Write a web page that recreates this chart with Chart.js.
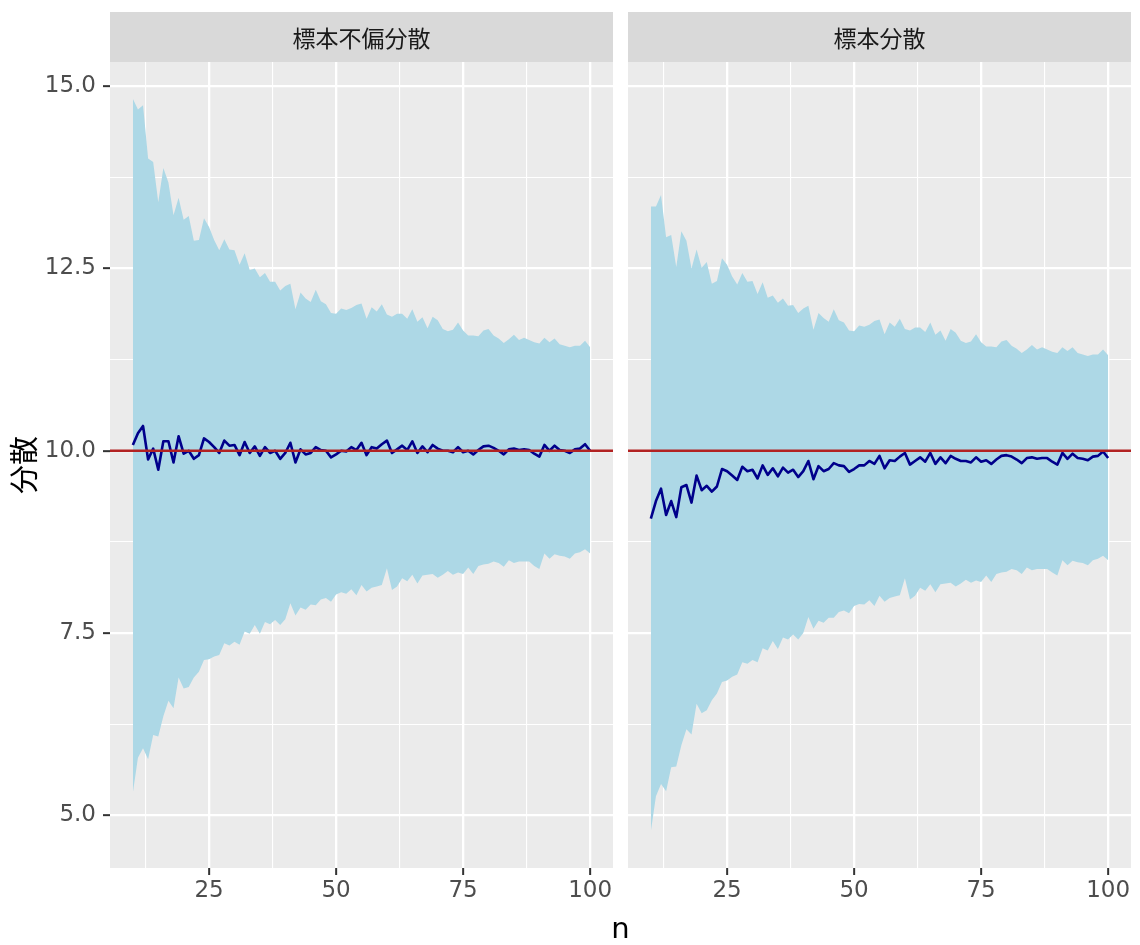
<!DOCTYPE html>
<html>
<head>
<meta charset="utf-8">
<script src="https://cdn.jsdelivr.net/npm/chart.js@4/dist/chart.umd.min.js"></script>
<style>
  body { margin: 0; background: #fff; }
  #wrap { position: relative; width: 1140px; height: 945px; }
  canvas { position: absolute; top: 0; }
  #left { left: 0; }
  #right { left: 620px; }
  #xtitle { position: absolute; left: 560px; width: 121px; top: 910px; text-align: center;
            font: 29px "DejaVu Sans", sans-serif; line-height: 36px; color: #000; }
</style>
</head>
<body>
<div id="wrap">
  <canvas id="left" width="620" height="945"></canvas>
  <canvas id="right" width="520" height="945"></canvas>
  <div id="xtitle">n</div>
</div>
<script>
const ns = [10,11,12,13,14,15,16,17,18,19,20,21,22,23,24,25,26,27,28,29,30,31,32,33,34,35,36,37,38,39,
  40,41,42,43,44,45,46,47,48,49,50,51,52,53,54,55,56,57,58,59,60,61,62,63,64,65,66,67,68,69,
  70,71,72,73,74,75,76,77,78,79,80,81,82,83,84,85,86,87,88,89,90,91,92,93,94,95,96,97,98,99,100];

const panelTitles = ['標本不偏分散', '標本分散'];
const yTitle = '分散';

// 標本不偏分散
const unbiasedUpper = [14.83,14.68,14.74,14.01,13.96,13.41,13.88,13.68,13.23,13.47,
  13.17,13.22,12.88,12.89,13.19,13.07,12.89,12.75,12.90,12.76,
  12.75,12.55,12.71,12.48,12.50,12.38,12.44,12.32,12.32,12.20,
  12.26,12.29,11.94,12.17,12.09,12.04,12.21,12.05,12.01,11.89,
  11.88,11.95,11.93,11.96,12.00,12.02,11.81,11.97,11.91,12.01,
  11.87,11.84,11.88,11.88,11.81,11.94,11.77,11.83,11.68,11.84,
  11.79,11.67,11.64,11.66,11.76,11.65,11.58,11.58,11.57,11.65,
  11.67,11.58,11.54,11.48,11.53,11.59,11.52,11.55,11.52,11.49,
  11.47,11.55,11.49,11.54,11.46,11.44,11.42,11.44,11.44,11.51,
  11.42];
const unbiasedLower = [5.31,5.79,5.92,5.77,6.10,6.08,6.36,6.57,6.47,6.89,
  6.74,6.76,6.89,6.97,7.13,7.14,7.18,7.20,7.36,7.33,
  7.38,7.34,7.52,7.49,7.61,7.49,7.65,7.62,7.68,7.61,
  7.69,7.91,7.74,7.85,7.82,7.89,7.88,7.96,7.98,7.93,
  8.03,8.06,8.04,8.10,8.02,8.16,8.07,8.12,8.14,8.16,
  8.39,8.09,8.14,8.25,8.21,8.30,8.18,8.29,8.30,8.31,
  8.26,8.30,8.35,8.30,8.33,8.31,8.40,8.31,8.42,8.44,
  8.45,8.48,8.46,8.41,8.50,8.46,8.48,8.48,8.48,8.42,
  8.38,8.59,8.52,8.58,8.56,8.55,8.52,8.59,8.61,8.65,
  8.59];
const unbiasedMean = [10.08,10.24,10.34,9.88,10.03,9.74,10.13,10.13,9.84,10.20,
  9.96,10.00,9.89,9.94,10.17,10.12,10.05,9.97,10.14,10.07,
  10.08,9.94,10.12,9.97,10.06,9.93,10.05,9.97,10.00,9.89,
  9.97,10.11,9.84,10.02,9.95,9.97,10.05,10.01,10.00,9.91,
  9.95,10.00,9.99,10.05,10.01,10.11,9.94,10.05,10.03,10.09,
  10.14,9.97,10.02,10.07,10.01,10.13,9.97,10.06,9.98,10.08,
  10.03,10.00,10.00,9.98,10.05,9.98,10.00,9.95,10.01,10.06,
  10.07,10.04,10.00,9.95,10.02,10.03,10.01,10.02,10.01,9.96,
  9.92,10.08,10.00,10.07,10.01,10.00,9.97,10.02,10.03,10.09,
  10.00];

// 標本分散
const sampleUpper = [13.35,13.35,13.51,12.93,12.96,12.52,13.01,12.88,12.50,12.76,
  12.51,12.59,12.29,12.33,12.64,12.55,12.39,12.28,12.44,12.32,
  12.33,12.15,12.31,12.10,12.13,12.03,12.09,11.99,12.00,11.89,
  11.95,11.99,11.66,11.89,11.82,11.77,11.94,11.79,11.76,11.65,
  11.64,11.72,11.70,11.73,11.78,11.80,11.60,11.76,11.70,11.81,
  11.67,11.65,11.69,11.69,11.63,11.76,11.59,11.65,11.51,11.67,
  11.62,11.51,11.48,11.50,11.60,11.49,11.43,11.43,11.42,11.50,
  11.52,11.44,11.40,11.34,11.39,11.45,11.39,11.42,11.39,11.36,
  11.34,11.42,11.37,11.42,11.34,11.32,11.30,11.32,11.32,11.39,
  11.31];
const sampleLower = [4.78,5.26,5.43,5.33,5.66,5.67,5.96,6.18,6.11,6.53,
  6.40,6.44,6.58,6.67,6.83,6.85,6.90,6.93,7.10,7.08,
  7.13,7.10,7.29,7.26,7.39,7.28,7.44,7.41,7.48,7.41,
  7.50,7.72,7.56,7.67,7.64,7.71,7.71,7.79,7.81,7.77,
  7.87,7.90,7.89,7.95,7.87,8.01,7.93,7.98,8.00,8.02,
  8.25,7.96,8.01,8.12,8.08,8.17,8.06,8.17,8.18,8.19,
  8.14,8.18,8.23,8.19,8.22,8.20,8.29,8.20,8.31,8.33,
  8.34,8.38,8.36,8.31,8.40,8.36,8.38,8.38,8.38,8.33,
  8.29,8.50,8.43,8.49,8.47,8.46,8.43,8.50,8.52,8.56,
  8.50];
const sampleMean = [9.07,9.31,9.48,9.12,9.31,9.09,9.50,9.53,9.29,9.66,
  9.46,9.52,9.44,9.51,9.75,9.72,9.66,9.60,9.78,9.72,
  9.74,9.62,9.80,9.67,9.76,9.65,9.77,9.70,9.74,9.64,
  9.72,9.86,9.61,9.79,9.72,9.75,9.83,9.80,9.79,9.71,
  9.75,9.80,9.80,9.86,9.82,9.93,9.76,9.87,9.86,9.92,
  9.97,9.81,9.86,9.91,9.85,9.97,9.82,9.91,9.83,9.93,
  9.89,9.86,9.86,9.84,9.91,9.85,9.87,9.82,9.88,9.93,
  9.94,9.92,9.88,9.83,9.90,9.91,9.89,9.90,9.90,9.85,
  9.81,9.97,9.89,9.96,9.90,9.89,9.87,9.92,9.93,9.99,
  9.90];

const trueVariance = 10;
const xMajor = [25, 50, 75, 100];
const xMinor = [12.5, 37.5, 62.5, 87.5];
const yMajor = [5, 7.5, 10, 12.5, 15];
const yMinor = [6.25, 8.75, 11.25, 13.75];
const xRange = [5.5, 104.5];
const yRange = [4.2775, 15.3325];

Chart.defaults.font.family = '"DejaVu Sans", "Noto Sans CJK JP", sans-serif';
Chart.defaults.font.size = 23;
Chart.defaults.color = '#4D4D4D';

const pts = arr => ns.map((n, i) => ({x: n, y: arr[i]}));

// grey panel + facet strip
const panelPlugin = {
  id: 'panel',
  beforeDraw(chart, args, opts) {
    const {ctx, chartArea: a} = chart;
    ctx.save();
    ctx.fillStyle = '#EBEBEB';
    ctx.fillRect(a.left, a.top, a.width, a.height);
    ctx.fillStyle = '#D9D9D9';
    ctx.fillRect(a.left, 12, a.width, a.top - 12);
    ctx.fillStyle = '#1A1A1A';
    ctx.font = '23px "Noto Sans CJK JP", sans-serif';
    ctx.textAlign = 'center';
    ctx.textBaseline = 'middle';
    ctx.fillText(opts.text, (a.left + a.right) / 2, (12 + a.top) / 2 + 1);
    ctx.restore();
  }
};

function gridOpts(major, ticks) {
  return {
    color: '#FFFFFF',
    lineWidth: c => major.includes(c.tick && c.tick.value) ? 2.3 : 1.1,
    drawTicks: ticks,
    tickLength: 7,
    tickWidth: 2,
    tickColor: c => major.includes(c.tick && c.tick.value) ? '#333333' : 'rgba(0,0,0,0)'
  };
}

function makePanel(id, title, upper, lower, mean, showY, pad) {
  new Chart(document.getElementById(id), {
    type: 'line',
    data: {
      datasets: [
        { data: [{x: xRange[0], y: trueVariance}, {x: xRange[1], y: trueVariance}],
          borderColor: '#B22222', borderWidth: 2.6, pointRadius: 0, fill: false },
        { data: pts(mean), borderColor: '#00008B', borderWidth: 2.6, pointRadius: 0,
          fill: false, borderJoinStyle: 'round' },
        { data: pts(upper), borderWidth: 0, pointRadius: 0, fill: '+1',
          backgroundColor: '#ADD8E6', borderColor: 'rgba(0,0,0,0)' },
        { data: pts(lower), borderWidth: 0, pointRadius: 0, fill: false,
          borderColor: 'rgba(0,0,0,0)' }
      ]
    },
    options: {
      responsive: false,
      animation: false,
      devicePixelRatio: 1,
      layout: { padding: pad },
      plugins: { legend: { display: false }, tooltip: { enabled: false }, panel: { text: title } },
      scales: {
        x: {
          type: 'linear', min: xRange[0], max: xRange[1],
          afterBuildTicks: s => { s.ticks = xMinor.concat(xMajor).sort((a, b) => a - b).map(v => ({value: v})); },
          afterFit: s => { s.height = 77; },
          grid: gridOpts(xMajor, true),
          border: { display: false },
          ticks: { autoSkip: false, maxRotation: 0, padding: 2,
                   callback: v => xMajor.includes(v) ? String(v) : '' }
        },
        y: {
          type: 'linear', min: yRange[0], max: yRange[1],
          afterBuildTicks: s => { s.ticks = yMinor.concat(yMajor).sort((a, b) => a - b).map(v => ({value: v})); },
          afterFit: s => { s.width = showY ? 110 : 0; },
          grid: gridOpts(yMajor, showY),
          border: { display: false },
          title: { display: showY, text: yTitle, color: '#000000',
                   font: { size: 29 }, padding: { top: 10, bottom: 0 } },
          ticks: { display: showY, autoSkip: false, padding: 7,
                   callback: v => yMajor.includes(v) ? v.toFixed(1) : '' }
        }
      }
    },
    plugins: [panelPlugin]
  });
}

makePanel('left', panelTitles[0], unbiasedUpper, unbiasedLower, unbiasedMean, true,
  {left: 0, top: 62, right: 7, bottom: 0});
makePanel('right', panelTitles[1], sampleUpper, sampleLower, sampleMean, false,
  {left: 8, top: 62, right: 9, bottom: 0});
</script>
</body>
</html>
